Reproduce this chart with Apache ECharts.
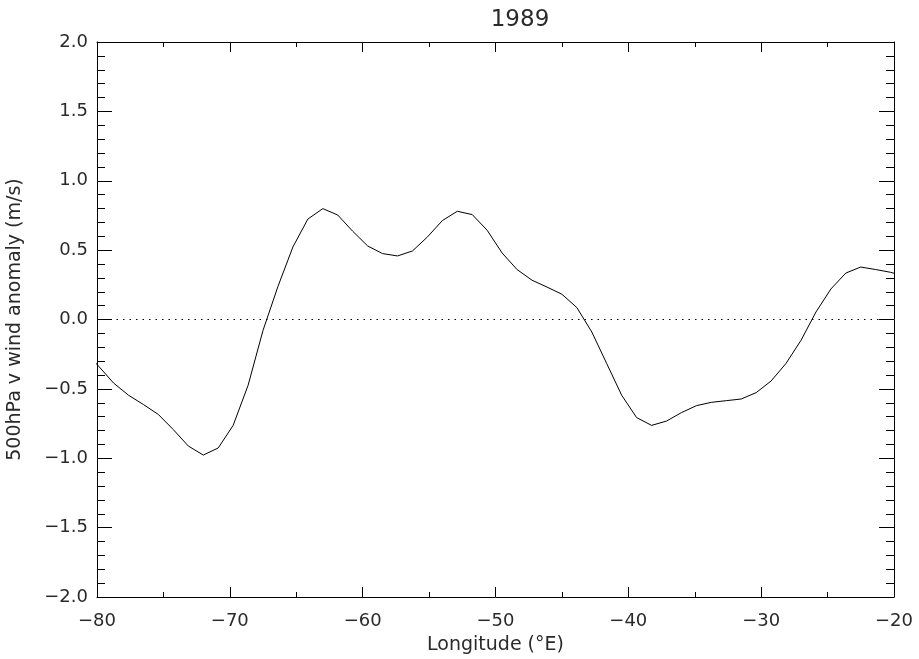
<!DOCTYPE html>
<html>
<head>
<meta charset="utf-8">
<title>1989</title>
<script src="https://cdn.jsdelivr.net/npm/echarts@6/dist/echarts.min.js"></script>
<style>
  html, body { margin: 0; padding: 0; background: #fff; }
  #chart { width: 919px; height: 659px; }
</style>
</head>
<body>
<div id="chart"></div>
<script>
// Longitude grid (1.125° spacing), degrees east
const lon = [
  -81, -79.875, -78.75, -77.625, -76.5, -75.375, -74.25, -73.125, -72, -70.875,
  -69.75, -68.625, -67.5, -66.375, -65.25, -64.125, -63, -61.875, -60.75, -59.625,
  -58.5, -57.375, -56.25, -55.125, -54, -52.875, -51.75, -50.625, -49.5, -48.375,
  -47.25, -46.125, -45, -43.875, -42.75, -41.625, -40.5, -39.375, -38.25, -37.125,
  -36, -34.875, -33.75, -32.625, -31.5, -30.375, -29.25, -28.125, -27, -25.875,
  -24.75, -23.625, -22.5, -21.375, -20.25, -19.125
];

// 500 hPa meridional wind anomaly, m/s
const vAnomaly = [
  -0.22, -0.337, -0.458, -0.546, -0.613, -0.685, -0.794, -0.912, -0.977, -0.926,
  -0.763, -0.474, -0.078, 0.239, 0.523, 0.724, 0.799, 0.753, 0.636, 0.530,
  0.475, 0.458, 0.494, 0.595, 0.713, 0.780, 0.756, 0.643, 0.479, 0.360,
  0.283, 0.234, 0.182, 0.086, -0.090, -0.318, -0.546, -0.707, -0.763, -0.732,
  -0.671, -0.621, -0.597, -0.585, -0.573, -0.527, -0.443, -0.316, -0.150, 0.054,
  0.220, 0.335, 0.378, 0.360, 0.340, 0.31
];

const titleText = '1989';
const xName = 'Longitude (°E)';
const yName = '500hPa v wind anomaly (m/s)';

const FONT = 'DejaVu Sans';
const TEXT = '#2a2a2a';
const minus = s => String(s).replace('-', '\u2212');

const chart = echarts.init(document.getElementById('chart'), null, { renderer: 'canvas' });

const lineStyle = { color: '#000', width: 1 };

function xAxisDef(pos, labels) {
  return {
    type: 'value', position: pos, min: -80, max: -20, interval: 10,
    name: labels ? xName : '', nameLocation: 'middle', nameGap: 39,
    nameTextStyle: { fontFamily: FONT, fontSize: 19, color: TEXT },
    axisLine: { show: true, onZero: false, lineStyle },
    axisTick: { show: true, inside: true, length: 10, lineStyle },
    minorTick: { show: true, splitNumber: 2, length: 5, lineStyle },
    axisLabel: {
      show: labels, margin: 15, fontFamily: FONT, fontSize: 18, color: TEXT,
      formatter: v => minus(v)
    },
    splitLine: { show: false }
  };
}

function yAxisDef(pos, labels) {
  return {
    type: 'value', position: pos, min: -2, max: 2, interval: 0.5,
    name: labels ? yName : '', nameLocation: 'middle', nameGap: 72,
    nameTextStyle: { fontFamily: FONT, fontSize: 19, color: TEXT },
    axisLine: { show: true, onZero: false, lineStyle },
    axisTick: { show: true, inside: true, length: 15, lineStyle },
    minorTick: { show: true, splitNumber: 5, length: 8, lineStyle },
    axisLabel: {
      show: labels, margin: 9, fontFamily: FONT, fontSize: 18, color: TEXT,
      formatter: v => minus(v.toFixed(1))
    },
    splitLine: { show: false }
  };
}

chart.setOption({
  animation: false,
  backgroundColor: '#fff',
  grid: {
    left: 97, right: 25, top: 42, bottom: 62,
    containLabel: false, outerBoundsMode: 'none'
  },
  graphic: [{
    type: 'text', x: 520, y: 9,
    style: { text: titleText, textAlign: 'center', font: '23px "DejaVu Sans"', fill: TEXT }
  }],
  xAxis: [xAxisDef('bottom', true), xAxisDef('top', false)],
  yAxis: [yAxisDef('left', true), yAxisDef('right', false)],
  series: [{
    type: 'line',
    xAxisIndex: 0, yAxisIndex: 0,
    data: lon.map((x, i) => [x, vAnomaly[i]]),
    showSymbol: false, symbol: 'none',
    clip: true,
    lineStyle: { color: '#000', width: 1 },
    markLine: {
      silent: true, symbol: 'none', label: { show: false },
      lineStyle: { color: '#000', width: 1, type: [1.5, 5] },
      data: [{ yAxis: 0 }]
    }
  }]
});
</script>
</body>
</html>
